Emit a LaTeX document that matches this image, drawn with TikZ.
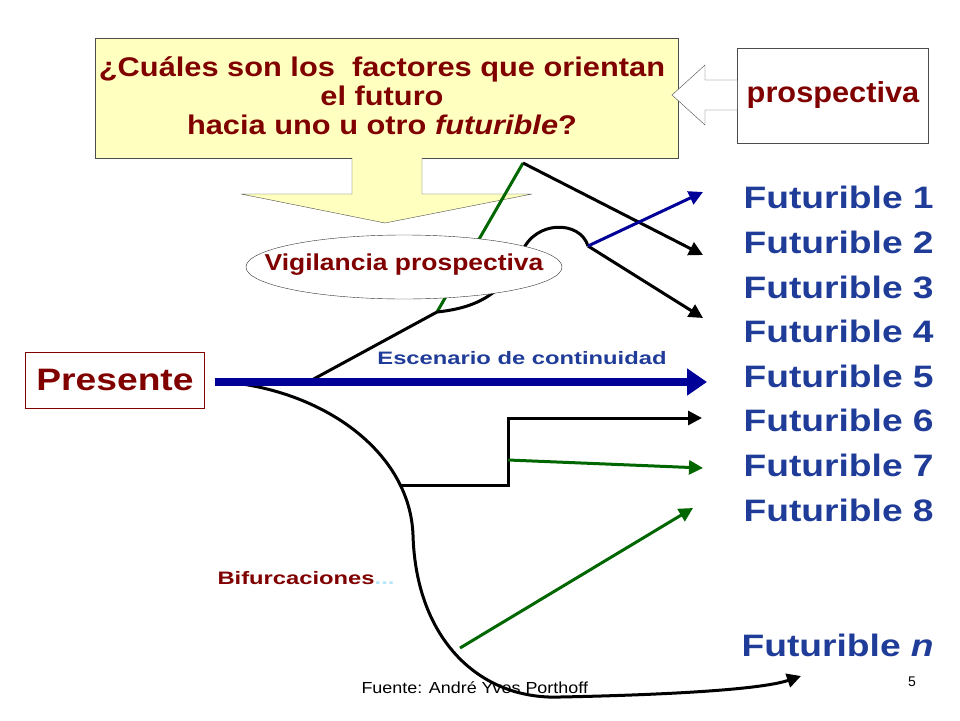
\documentclass[tikz,border=0pt]{standalone}
\usepackage{fontspec}
\setmainfont{Liberation Sans}
\newfontfamily\sFut[FakeStretch=1.2]{Liberation Sans}
\newfontfamily\sQ[FakeStretch=1.14]{Liberation Sans}
\newfontfamily\sEsc[FakeStretch=1.32]{Liberation Sans}
\newfontfamily\sVig[FakeStretch=1.15]{Liberation Sans}
\newfontfamily\sPro[FakeStretch=1.06]{Liberation Sans}
\newfontfamily\sSrc[FakeStretch=1.12]{Liberation Sans}
\usetikzlibrary{shapes.geometric,arrows.meta}
\definecolor{dred}{HTML}{800000}
\definecolor{fblue}{HTML}{1F3C99}
\definecolor{dblue}{HTML}{000099}
\definecolor{dgreen}{HTML}{006600}
\definecolor{lyel}{HTML}{FFFFC0}
\tikzset{
 fut/.style={anchor=west,text=fblue,font=\sFut\fontsize{31}{32}\selectfont\bfseries},
 blk/.style={line width=3pt,black,-{Triangle[length=14pt,width=14pt]}},
 grn/.style={line width=3pt,dgreen,-{Triangle[length=14pt,width=14pt]}},
}
\begin{document}
\begin{tikzpicture}[x=1pt,y=-1pt]
\useasboundingbox (0,0) rectangle (960,720);
% yellow box and down arrow
\draw[fill=lyel,draw=black!70] (95,38) rectangle (678,158);
\draw[fill=lyel,draw=black!70] (352,158) -- (352,194) -- (241,194) -- (385,223) -- (532,194) -- (422,194) -- (422,158);
\node (q) at (382,96) [align=center,text=dred,font=\sQ\fontsize{27}{29}\selectfont\bfseries] {¿Cuáles son los\ \ factores que orientan\\el futuro\\hacia uno u otro \textit{futurible}?};
% prospectiva
\draw[draw=black!70,fill=white] (737,48) rectangle (928,143);
\draw[draw=black!70,fill=white] (737,80) -- (705,80) -- (705,65) -- (672,95) -- (705,125) -- (705,110) -- (737,110);
\node (p) at (833,95) [text=dred,font=\sPro\fontsize{29}{30}\selectfont\bfseries] {prospectiva};
% lines upper
\coordinate (a) at (310,381);
\coordinate (b) at (437,312);
\coordinate (c) at (523,163);
\coordinate (d) at (588,246);
\draw[line width=3pt,dgreen] (b) -- (c);
\draw[line width=3pt] (a) -- (b);
\draw[line width=3pt] (b) .. controls (475,308) and (505,295) .. (522,252) .. controls (535,220) and (580,220) .. (d);
\draw[blk] (c) -- (703,255);
\draw[blk] (d) -- (703,318);
\draw[line width=3pt,dblue,-{Triangle[length=14pt,width=14pt]}] (d) -- (703,192);
% ellipse
\draw[draw=black!80,fill=white] (404,267) ellipse [x radius=158,y radius=32];
\node (v) at (404,265) [text=dred,font=\sVig\fontsize{23}{24}\selectfont\bfseries] {Vigilancia prospectiva};
% presente
\node (pr) at (115,380) [draw=dred,minimum width=179,minimum height=56,inner sep=0,text=dred,font=\sFut\fontsize{31}{32}\selectfont\bfseries] {Presente};
% lower curve
\coordinate (e) at (400,485);
\coordinate (f) at (460,648);
\coordinate (g) at (508,460);
\draw[line width=3pt,-{Triangle[length=14pt,width=14pt]}] (235,383) .. controls (330,395) and (410,455) .. (413,535) .. controls (416,640) and (480,700) .. (560,697) .. controls (660,695) and (760,690) .. (801,676);
\draw[blk] (e) -- (508,485) -- (508,418) -- (702,418);
\draw[grn] (g) -- (703,468);
\draw[grn] (f) -- (693,508);
\draw[line width=8pt,dblue,-{Triangle[length=20pt,width=26pt]}] (pr.east)++(10,2) -- (707,382);
\node (esc) at (522,358) [text=fblue,font=\sEsc\fontsize{18}{19}\selectfont\bfseries] {Escenario de continuidad};
% futuribles
\node[fut] (f1) at (740,197) {Futurible 1};
\node[fut] (f2) at (740,242) {Futurible 2};
\node[fut] (f3) at (740,287) {Futurible 3};
\node[fut] (f4) at (740,331) {Futurible 4};
\node[fut] (f5) at (740,376) {Futurible 5};
\node[fut] (f6) at (740,420) {Futurible 6};
\node[fut] (f7) at (740,465) {Futurible 7};
\node[fut] (f8) at (740,510) {Futurible 8};
\node[fut] (fn) at (738,645) {Futurible \textit{n}};
\node (bif) at (214,578) [anchor=west,text=dred,font=\sEsc\fontsize{18}{19}\selectfont\bfseries] {Bifurcaciones\textcolor{cyan!30!white}{...}};
\node (src) at (358,688) [anchor=west,font=\sSrc\fontsize{16}{18}\selectfont] {Fuente: André Yves Porthoff};
\node (num) at (912,682) [font=\fontsize{14}{16}\selectfont] {5};
\end{tikzpicture}
\end{document}
